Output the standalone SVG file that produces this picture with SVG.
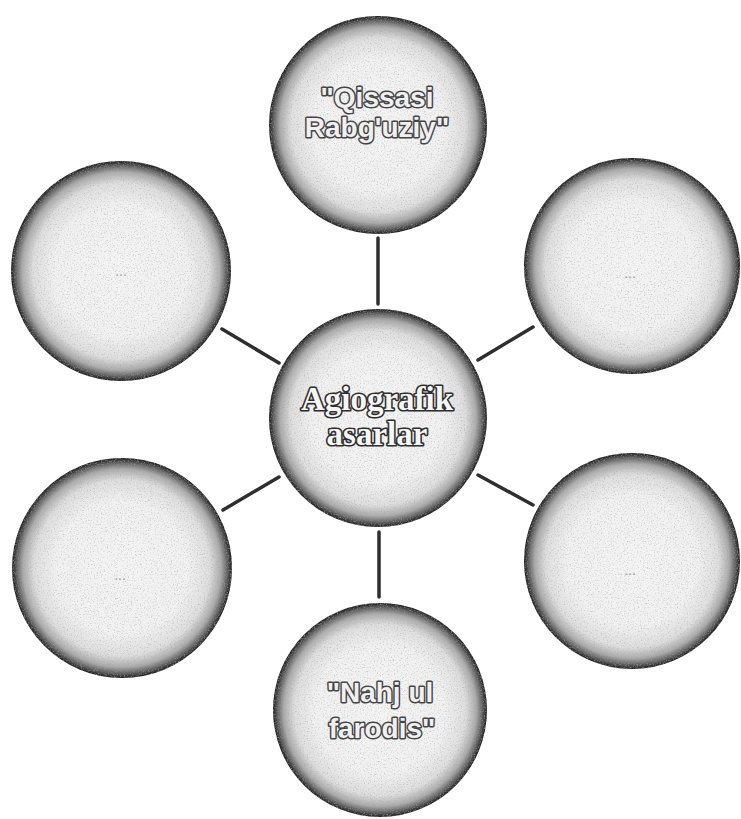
<svg xmlns="http://www.w3.org/2000/svg" width="741" height="819" viewBox="0 0 741 819">
<style>
.conn{stroke:#2e2e2e;stroke-width:3.5;stroke-linecap:round}
.ball{fill:url(#g);filter:url(#noise)}
.sans{font-family:"Liberation Sans","Open Sans",sans-serif;font-weight:bold;font-size:28px;fill:#f0f0f0;stroke:#444444;stroke-width:3;stroke-linejoin:round;paint-order:stroke;text-anchor:middle}
.serif{font-family:"Liberation Serif","DejaVu Serif",serif;font-weight:bold;font-size:33px;fill:#f6f6f6;stroke:#2e2e2e;stroke-width:3.2;stroke-linejoin:round;paint-order:stroke;text-anchor:middle}
.dots{font-family:"Liberation Sans",sans-serif;font-size:14px;fill:#a0a0a0;text-anchor:middle}
</style>
<defs>
<radialGradient id="g" cx="0.5" cy="0.5" r="0.5">
<stop offset="0" stop-color="#f4f4f4"/>
<stop offset="0.6" stop-color="#f1f1f1"/>
<stop offset="0.8" stop-color="#dedede"/>
<stop offset="0.9" stop-color="#ababab"/>
<stop offset="0.96" stop-color="#5e5e5e"/>
<stop offset="1" stop-color="#1e1e1e"/>
</radialGradient>
<filter id="noise" x="0" y="0" width="1" height="1">
<feTurbulence type="fractalNoise" baseFrequency="0.7" numOctaves="2" seed="3" result="t"/>
<feColorMatrix in="t" type="matrix" values="0 0 0 0 0.35  0 0 0 0 0.35  0 0 0 0 0.35  0 0 0 -3 1.45" result="n"/>
<feComposite in="n" in2="SourceGraphic" operator="in" result="nc"/>
<feComponentTransfer in="nc" result="nf"><feFuncA type="linear" slope="0.55"/></feComponentTransfer>
<feMerge><feMergeNode in="SourceGraphic"/><feMergeNode in="nf"/></feMerge>
</filter>
</defs>
<rect width="741" height="819" fill="#ffffff"/>
<g id="connectors">
<line class="conn" x1="378" y1="238" x2="378" y2="304"/>
<line class="conn" x1="222" y1="329" x2="279" y2="363"/>
<line class="conn" x1="533" y1="327" x2="478" y2="360"/>
<line class="conn" x1="279" y1="477" x2="223" y2="510"/>
<line class="conn" x1="478" y1="475" x2="533" y2="505"/>
<line class="conn" x1="379" y1="532" x2="379" y2="597"/>
</g>
<g id="node-top">
<circle class="ball" cx="378" cy="125" r="109"/>
<text class="sans" x="377" y="107">"Qissasi</text>
<text class="sans" x="377" y="137">Rabg'uziy"</text>
</g>
<g id="node-center">
<circle class="ball" cx="378" cy="418" r="109"/>
<text class="serif" x="377" y="410">Agiografik</text>
<text class="serif" x="377" y="445">asarlar</text>
</g>
<g id="node-top-left">
<circle class="ball" cx="121" cy="271" r="110"/>
<text class="dots" x="121" y="276">...</text>
</g>
<g id="node-top-right">
<circle class="ball" cx="632" cy="266" r="108"/>
<text class="dots" x="630" y="278">...</text>
</g>
<g id="node-bottom-left">
<circle class="ball" cx="122" cy="568" r="110"/>
<text class="dots" x="120" y="580">...</text>
</g>
<g id="node-bottom-right">
<circle class="ball" cx="632" cy="561" r="108"/>
<text class="dots" x="630" y="575">...</text>
</g>
<g id="node-bottom">
<circle class="ball" cx="380" cy="710" r="107"/>
<text class="sans" x="380" y="702">"Nahj ul</text>
<text class="sans" x="382" y="738">farodis"</text>
</g>
</svg>
